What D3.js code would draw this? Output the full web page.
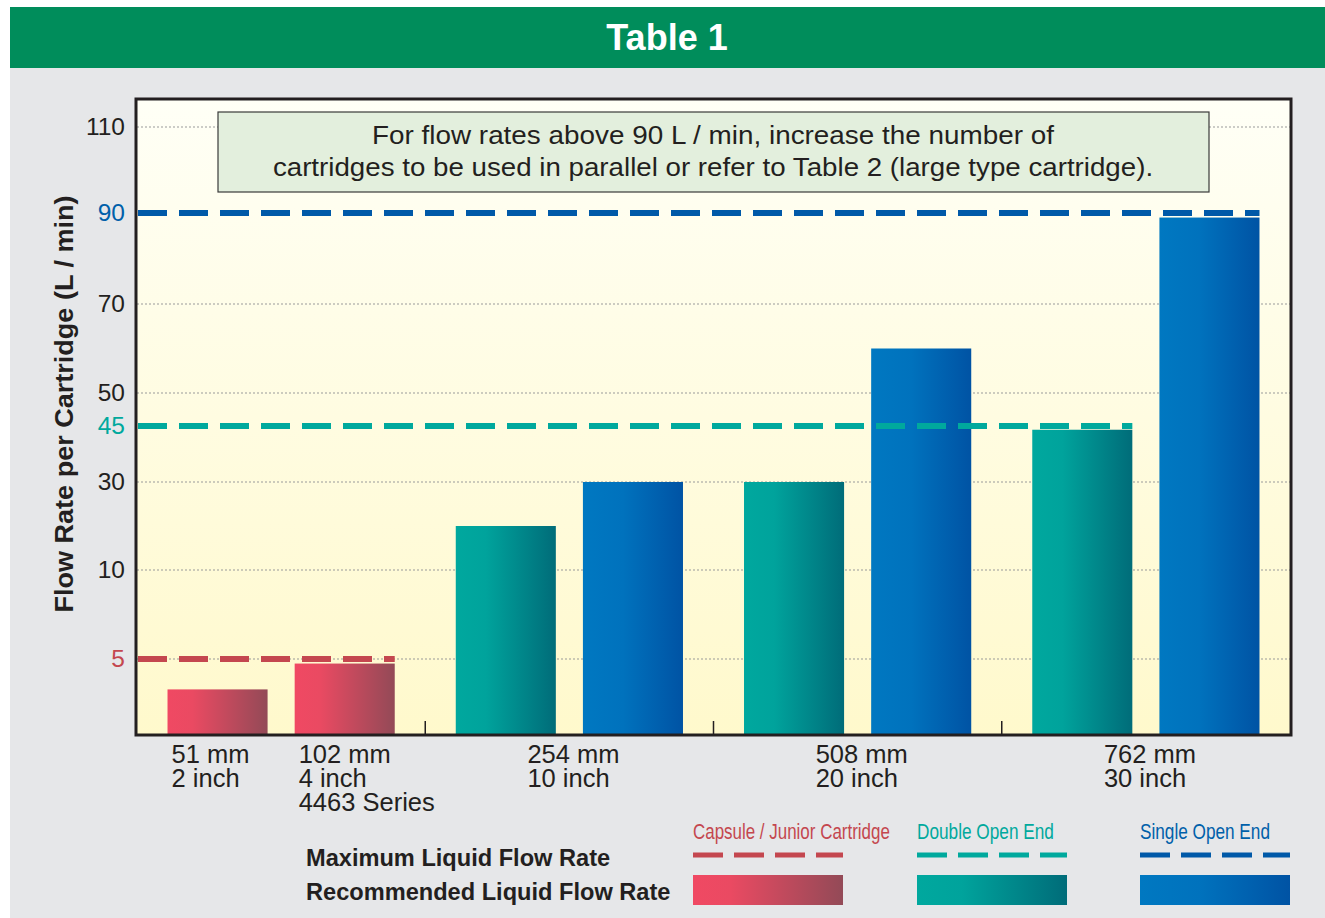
<!DOCTYPE html>
<html>
<head>
<meta charset="utf-8">
<script src="https://cdn.jsdelivr.net/npm/d3@7"></script>
<style>
body { margin: 0; background: #fff; }
text { font-family: "Liberation Sans", Arial, Helvetica, sans-serif; }
</style>
</head>
<body>
<div id="chart"></div>
<script>
// bar data: group index, slot inside group, cartridge type, recommended flow rate
const groups = ["51 / 102 mm", "254 mm", "508 mm", "762 mm"];
const barGroup = [0, 0, 1, 1, 2, 2, 3, 3];
const barSlot = [0, 1, 0, 1, 0, 1, 0, 1];
const barType = ["capsule", "capsule", "double", "single", "double", "single", "double", "single"];
const barValue = [3, 4.7, 20, 30, 30, 60, 44, 89];

// maximum flow rate per type (dashed lines)
const maxType = ["capsule", "double", "single"];
const maxValue = [5, 45, 90];

// y axis
const tickValues = [5, 10, 30, 45, 50, 70, 90, 110];
const gridValues = [5, 10, 30, 50, 70, 110];

// category labels
const catLabels = [["51 mm", "2 inch"], ["102 mm", "4 inch", "4463 Series"], ["254 mm", "10 inch"], ["508 mm", "20 inch"], ["762 mm", "30 inch"]];
const catGroup = [0, 0, 1, 2, 3];
const catSlot = [0, 1, null, null, null];

// legend
const legendTypes = ["capsule", "double", "single"];
const legendNames = ["Capsule / Junior Cartridge", "Double Open End", "Single Open End"];

const noteLines = ["For flow rates above 90 L / min, increase the number of",
    "cartridges to be used in parallel or refer to Table 2 (large type cartridge)."];

// colours
const lineColor = {capsule: "#c4474f", double: "#00a99d", single: "#0059a8"};
const textColor = {capsule: "#c4474f", double: "#00a99d", single: "#0060aa"};
const gradStops = {
    capsule: [["0%", "#f04963"], ["25%", "#ea4a62"], ["100%", "#934a57"]],
    double: [["0%", "#00a89e"], ["30%", "#00a39c"], ["100%", "#006c79"]],
    single: [["0%", "#0078c1"], ["40%", "#0072bd"], ["100%", "#0053a4"]]
};

const W = 1325, H = 918;
const plot = {left: 137, right: 1290, top: 100, bottom: 735};

const svg = d3.select("#chart").append("svg")
    .attr("width", W).attr("height", H);

const defs = svg.append("defs");
Object.keys(gradStops).forEach(k => {
    const g = defs.append("linearGradient").attr("id", "grad-" + k)
        .attr("x1", "0%").attr("x2", "100%").attr("y1", "0%").attr("y2", "0%");
    gradStops[k].forEach(s => g.append("stop").attr("offset", s[0]).attr("stop-color", s[1]));
});
const bg = defs.append("linearGradient").attr("id", "plotbg")
    .attr("x1", "0%").attr("x2", "0%").attr("y1", "0%").attr("y2", "100%");
bg.append("stop").attr("offset", "0%").attr("stop-color", "#fffff6");
bg.append("stop").attr("offset", "100%").attr("stop-color", "#fff9cc");

// squeeze/stretch a text horizontally to a target width (the original uses Helvetica widths)
function fitWidth(sel, target, anchorX) {
    sel.each(function () {
        const len = this.getComputedTextLength();
        const k = target / len;
        d3.select(this).attr("transform", "translate(" + anchorX + ",0) scale(" + k + ",1) translate(" + (-anchorX) + ",0)");
    });
}

// panel + header
svg.append("rect").attr("x", 10).attr("y", 7).attr("width", W - 10).attr("height", H - 7).attr("fill", "#e6e7e9");
svg.append("rect").attr("x", 10).attr("y", 7).attr("width", W - 10).attr("height", 61).attr("fill", "#008d5b");
svg.append("text").attr("x", 667).attr("y", 50).attr("text-anchor", "middle")
    .attr("fill", "#fff").attr("font-size", 36).attr("font-weight", "bold").text("Table 1");

// scales
const x0 = d3.scaleBand().domain(d3.range(groups.length)).range([plot.left, plot.right]);
const x1 = d3.scaleBand().domain([0, 1]).range([0, x0.bandwidth()]).paddingInner(0.213).paddingOuter(0.24);
const y = d3.scaleLinear()
    .domain([0, 5, 10, 30, 45, 50, 70, 90, 110])
    .range([735, 659, 570, 482, 426, 393, 304, 213, 127]);

const barX = i => x0(barGroup[i]) + x1(barSlot[i]);

// plot background
svg.append("rect").attr("x", plot.left).attr("y", plot.top)
    .attr("width", plot.right - plot.left).attr("height", plot.bottom - plot.top)
    .attr("fill", "url(#plotbg)");

// dotted grid
svg.append("g").selectAll("line").data(gridValues).join("line")
    .attr("x1", plot.left).attr("x2", plot.right)
    .attr("y1", d => y(d)).attr("y2", d => y(d))
    .attr("stroke", "#9a9a9a").attr("stroke-width", 1.2).attr("stroke-dasharray", "2,2");

// note box
svg.append("rect").attr("x", 218).attr("y", 112).attr("width", 991).attr("height", 80)
    .attr("fill", "#e3efdd").attr("stroke", "#3a3a3a").attr("stroke-width", 1.2);
const noteW = [682, 881];
svg.append("g").selectAll("text").data(noteLines).join("text")
    .attr("x", 713).attr("y", (d, i) => 144 + i * 32)
    .attr("text-anchor", "middle").attr("font-size", 25).attr("fill", "#231f20")
    .text(d => d)
    .each(function (d, i) { fitWidth(d3.select(this), noteW[i], 713); });

// bars
svg.append("g").selectAll("rect").data(barValue).join("rect")
    .attr("x", (d, i) => barX(i))
    .attr("y", d => y(d))
    .attr("width", x1.bandwidth())
    .attr("height", d => y(0) - y(d))
    .attr("fill", (d, i) => "url(#grad-" + barType[i] + ")");

// maximum flow rate dashed lines, running to the last bar of that type
svg.append("g").selectAll("line").data(maxValue).join("line")
    .attr("x1", plot.left + 1)
    .attr("x2", (d, i) => d3.max(barValue.map((v, j) => j), j => barType[j] === maxType[i] ? barX(j) + x1.bandwidth() : null))
    .attr("y1", d => y(d)).attr("y2", d => y(d))
    .attr("stroke", (d, i) => lineColor[maxType[i]])
    .attr("stroke-width", 6).attr("stroke-dasharray", "29,12");

// group ticks on bottom
svg.append("g").selectAll("line").data(d3.range(1, groups.length)).join("line")
    .attr("x1", d => x0(d)).attr("x2", d => x0(d))
    .attr("y1", plot.bottom - 14).attr("y2", plot.bottom)
    .attr("stroke", "#231f20").attr("stroke-width", 1.5);

// frame
svg.append("rect").attr("x", plot.left - 1).attr("y", plot.top - 1)
    .attr("width", plot.right - plot.left + 2).attr("height", plot.bottom - plot.top + 1)
    .attr("fill", "none").attr("stroke", "#231f20").attr("stroke-width", 3);

// y axis
const yAxis = svg.append("g").attr("transform", "translate(" + plot.left + ",0)")
    .call(d3.axisLeft(y).tickValues(tickValues).tickSize(0).tickPadding(12));
yAxis.select(".domain").remove();
yAxis.selectAll("text")
    .attr("font-size", 24.5)
    .attr("font-family", "'Liberation Sans', Arial, sans-serif")
    .attr("fill", d => {
        const k = maxValue.indexOf(d);
        return k >= 0 ? textColor[maxType[k]] : "#231f20";
    });

svg.append("text")
    .attr("transform", "translate(73,404) rotate(-90)")
    .attr("text-anchor", "middle").attr("font-size", 26.5).attr("font-weight", "bold")
    .attr("textLength", 417).attr("lengthAdjust", "spacingAndGlyphs")
    .attr("fill", "#231f20")
    .text("Flow Rate per Cartridge (L / min)");

// category labels
const catX = i => catSlot[i] !== null
    ? x0(catGroup[i]) + x1(catSlot[i]) + 4
    : x0(catGroup[i]) + x0.bandwidth() / 2 - 42;
const cat = svg.append("g").selectAll("text").data(catLabels).join("text")
    .attr("font-size", 25.5).attr("fill", "#231f20");
cat.selectAll("tspan").data((d, i) => d.map(t => ({t: t, x: catX(i)}))).join("tspan")
    .attr("x", d => d.x).attr("y", (d, j) => 763 + j * 24)
    .text(d => d.t);

// legend
svg.append("text").attr("x", 306).attr("y", 866).attr("font-size", 23.6).attr("font-weight", "bold")
    .attr("fill", "#231f20").text("Maximum Liquid Flow Rate");
svg.append("text").attr("x", 306).attr("y", 900).attr("font-size", 23.6).attr("font-weight", "bold")
    .attr("fill", "#231f20").text("Recommended Liquid Flow Rate");

const legX = [693, 917, 1140];
const legTextW = [197, 137, 130];
const leg = svg.append("g").selectAll("g").data(legendTypes).join("g")
    .attr("transform", (d, i) => "translate(" + legX[i] + ",0)");
leg.append("text").attr("x", 0).attr("y", 839)
    .attr("font-size", 22)
    .attr("fill", d => textColor[d])
    .text((d, i) => legendNames[i])
    .each(function (d, i) { fitWidth(d3.select(this), legTextW[i], 0); });
leg.append("line").attr("x1", 0).attr("x2", 150).attr("y1", 855).attr("y2", 855)
    .attr("stroke", d => lineColor[d]).attr("stroke-width", 5).attr("stroke-dasharray", "30,11");
leg.append("rect").attr("x", 0).attr("y", 875).attr("width", 150).attr("height", 30)
    .attr("fill", d => "url(#grad-" + d + ")");
</script>
</body>
</html>
